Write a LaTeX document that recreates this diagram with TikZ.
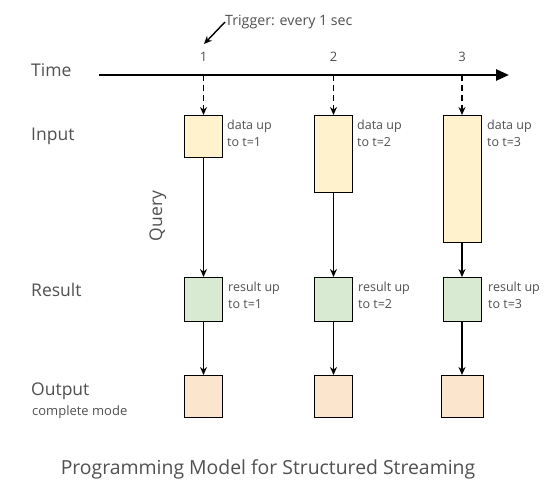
\documentclass[tikz,border=0pt]{standalone}
\usepackage{fontspec}
\setmainfont{Open Sans}
\usetikzlibrary{arrows.meta}
\definecolor{inputc}{HTML}{FFF2CC}
\definecolor{resultc}{HTML}{D9EAD3}
\definecolor{outputc}{HTML}{FCE5CD}
\definecolor{textc}{HTML}{505050}
\begin{document}
\begin{tikzpicture}[x=1pt, y=-1pt,
    caja/.style={draw, line width=1pt, inner sep=0pt, anchor=north, minimum width=38pt},
    etiq/.style={text=textc, font=\fontsize{17.5}{20}\selectfont, anchor=west, inner sep=0pt},
    nota/.style={text=textc, font=\fontsize{12.5}{17}\selectfont, align=left, anchor=west, inner sep=0pt},
    flecha/.style={-{Stealth[length=8pt,width=7pt]}, line width=1.4pt}]

    \useasboundingbox (0,0) rectangle (549,492);

    % 1. EJE DEL TIEMPO
    \coordinate (t0) at (99,75);
    \coordinate (tf) at (509,75);
    \draw[line width=2.5pt, -{Triangle[length=13pt,width=11pt]}] (t0) -- (tf);
    \foreach \x/\n in {203.5/1, 333.5/2, 462/3} {
        \node[text=textc, font=\fontsize{13}{15}\selectfont, inner sep=0pt] (tick\n) at (\x,57) {\n};
        \coordinate (eje\n) at (\x,75);
    }

    % 2. DISPARADOR
    \node[text=textc, font=\fontsize{14.2}{16}\selectfont, anchor=west, inner sep=0pt] (trigger) at (225,22) {Trigger: every 1 sec};
    \coordinate (trig) at (204,44);
    \draw[flecha] (trigger.west) -- (trig);

    % 3. ETIQUETAS DE LAS FILAS
    \node[etiq] (time) at (31,70) {Time};
    \node[etiq] (input) at (31,136) {Input};
    \node[etiq] (result) at (31,290) {Result};
    \node[etiq] (output) at (31,391) {Output};
    \node[text=textc, font=\fontsize{13}{15}\selectfont, anchor=west, inner sep=0pt] (mode) at (32,412) {complete mode};
    \node[etiq, anchor=center, rotate=90] (query) at (158,216) {Query};

    % 4. CAJAS DE ENTRADA (crecen con el tiempo)
    \node[caja, fill=inputc, minimum height=42pt] (in1) at (203.5,115) {};
    \node[caja, fill=inputc, minimum height=77pt] (in2) at (333.5,115) {};
    \node[caja, fill=inputc, minimum height=127pt] (in3) at (462,115) {};

    % 5. CAJAS DE RESULTADO Y SALIDA
    \foreach \x/\n in {203.5/1, 333.5/2, 462/3} {
        \node[caja, fill=resultc, minimum height=44pt] (res\n) at (\x,277) {};
    }
    \node[caja, fill=outputc, minimum height=42pt] (out1) at (203.5,375) {};
    \node[caja, fill=outputc, minimum height=42pt] (out2) at (333.5,375) {};
    \node[caja, fill=outputc, minimum height=42pt, minimum width=42pt] (out3) at (462,375) {};

    % 6. NOTAS
    \foreach \n/\x in {1/227, 2/357, 3/487} {
        \node[nota] (dat\n) at (\x,133.5) {data up\\to t=\n};
        \node[nota] (rnota\n) at (\x+1,295.5) {result up\\to t=\n};
    }

    % 7. FLECHAS
    \foreach \n in {1,2,3} {
        \draw[flecha, dash pattern=on 6pt off 4pt] (eje\n) -- (in\n.north);
        \draw[flecha] (in\n.south) -- (res\n.north);
        \draw[flecha] (res\n.south) -- (out\n.north);
    }

    % 8. TITULO
    \node[text=textc, font=\fontsize{19.4}{22}\selectfont, inner sep=0pt] (titulo) at (268,469) {Programming Model for Structured Streaming};

\end{tikzpicture}
\end{document}
